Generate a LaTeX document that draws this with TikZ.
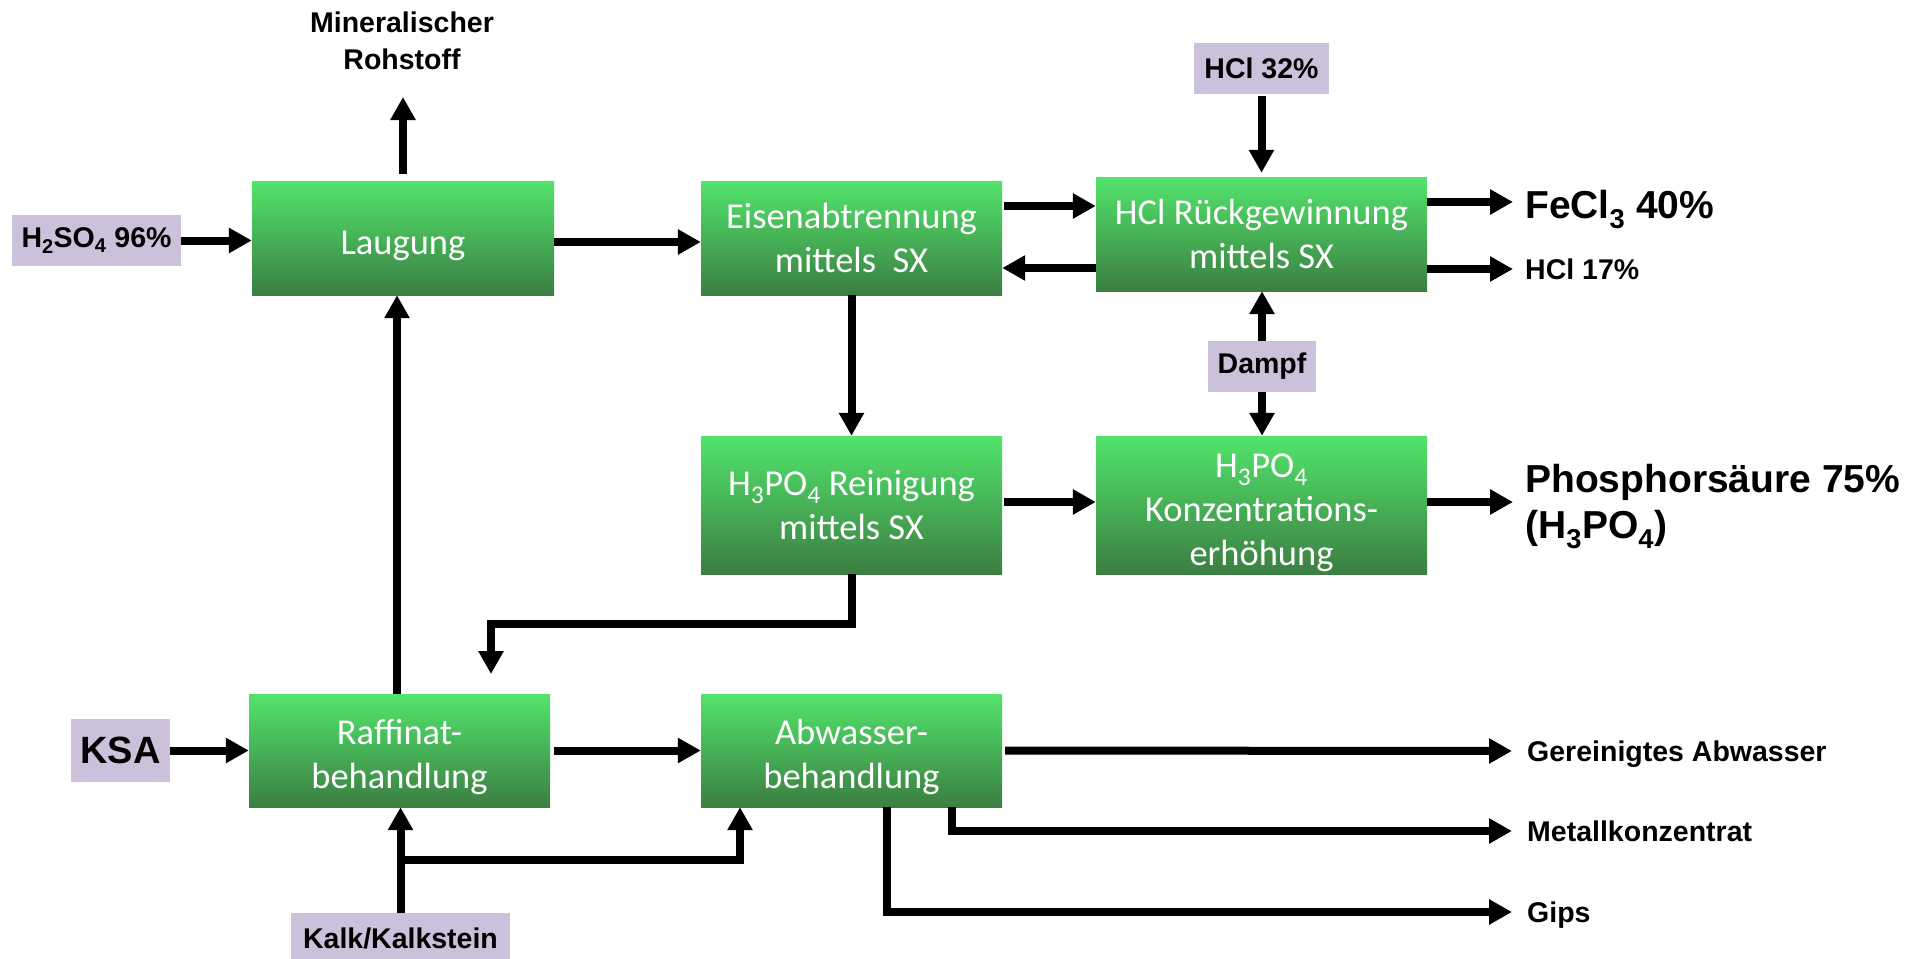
\documentclass[tikz,border=0pt]{standalone}
\usepackage{fontspec}
\setmainfont{Carlito}
\newfontfamily\labfont{Liberation Sans}
\usetikzlibrary{arrows.meta,calc}
\definecolor{lav}{HTML}{CCC1DA}
\definecolor{gtop}{HTML}{52E46B}
\definecolor{gbot}{HTML}{3B7E42}
\begin{document}
\begin{tikzpicture}[x=1pt,y=-1pt,
 proc/.style={rectangle, top color=gtop, bottom color=gbot, draw=none, text=white, align=center,
   font=\fontsize{36.5}{44}\selectfont, inner sep=0pt},
 feed/.style={rectangle, fill=lav, draw=none, inner sep=0pt, font=\labfont\bfseries\fontsize{28.5}{34}\selectfont},
 lab/.style={inner sep=0pt, font=\labfont\bfseries\fontsize{28.5}{37}\selectfont},
 biglab/.style={inner sep=0pt, font=\labfont\bfseries\fontsize{39}{46}\selectfont},
 flow/.style={line width=8pt, -{Triangle[length=23pt,width=24pt]}},
]
\newcommand\topgap{\rule{0pt}{39pt}}
\useasboundingbox (0,0) rectangle (1913,958);

% process boxes
\node[proc, minimum width=302pt, minimum height=114pt] (laug) at (403,238) {\topgap Laugung};
\node[proc, minimum width=301pt, minimum height=114pt] (eisen) at (851.5,238) {Eisenabtrennung\\mittels\ \ SX};
\node[proc, minimum width=331pt, minimum height=114pt] (hclr) at (1261.5,234) {HCl Rückgewinnung\\mittels SX};
\node[proc, minimum width=301pt, minimum height=138pt] (rein) at (851.5,505) {H\textsubscript{3}PO\textsubscript{4} Reinigung\\mittels SX};
\node[proc, minimum width=331pt, minimum height=138pt] (konz) at (1261.5,505) {\topgap H\textsubscript{3}PO\textsubscript{4}\\Konzentrations-\\erhöhung};
\node[proc, minimum width=301pt, minimum height=113pt] (raff) at (399.5,750.5) {\topgap Raffinat-\\behandlung};
\node[proc, minimum width=301pt, minimum height=113pt] (abw) at (851.5,750.5) {\topgap Abwasser-\\behandlung};

% feed boxes
\node[feed, minimum width=169pt, minimum height=51pt] (h2so4) at (96.5,240.5) {H\textsubscript{2}SO\textsubscript{4} 96\%};
\node[feed, minimum width=135pt, minimum height=51pt] (hcl32) at (1261.5,68.5) {HCl 32\%};
\node[feed, minimum width=108pt, minimum height=51pt] (dampf) at (1262,366.5) {Dampf};
\node[feed, minimum width=99pt, minimum height=63pt, font=\labfont\bfseries\fontsize{38}{44}\selectfont] (ksa) at (120.5,750.5) {KSA};
\node[feed, minimum width=219pt, minimum height=51pt] (kalk) at (400.5,938.5) {Kalk/Kalkstein};

% output labels
\node[lab, align=center] (mineral) at (402,41) {Mineralischer\\Rohstoff};
\node[biglab, anchor=base west] (tfe) at (1525,218) {FeCl\textsubscript{3} 40\%};
\node[lab, anchor=base west] (th17) at (1525,279) {HCl 17\%};
\node[biglab, anchor=base west] (tph1) at (1525,492) {Phosphorsäure 75\%};
\node[biglab, anchor=base west] (tph2) at (1525,538) {(H\textsubscript{3}PO\textsubscript{4})};
\node[lab, anchor=base west] (tger) at (1527,761) {Gereinigtes Abwasser};
\node[lab, anchor=base west] (tmet) at (1527,841) {Metallkonzentrat};
\node[lab, anchor=base west] (tgips) at (1527,922) {Gips};

% coordinates for free ends
\coordinate (minend) at (403,97);
\coordinate (fe) at (1513,202);
\coordinate (h17) at (1513,269);
\coordinate (ph) at (1513,502);
\coordinate (rbend) at (491,624);
\coordinate (rr) at (491,674);
\coordinate (kj) at (400.5,860);
\coordinate (ger) at (1512,751);
\coordinate (met) at (1512,831);
\coordinate (gips) at (1512,912);

% connectors
\draw[flow] (h2so4.east) -- (h2so4.east -| laug.west);
\draw[flow] ($(laug.north)+(0,-7)$) -- (minend);
\draw[flow] ($(laug.east)+(0,4)$) -- ($(eisen.west)+(0,4)$);
\draw[flow] ($(eisen.east)+(2,-32)$) -- ($(hclr.west)+(0,-28)$);
\draw[flow] ($(hclr.west)+(0,34)$) -- ($(eisen.east)+(0,30)$);
\draw[flow] ($(hcl32.south)+(0,2)$) -- ($(hclr.north)+(0,-4)$);
\draw[flow] (hclr.east |- fe) -- (fe);
\draw[flow] (hclr.east |- h17) -- (h17);
\draw[flow] (dampf.north) -- (hclr.south -| dampf.north);
\draw[flow] (dampf.south) -- (konz.north -| dampf.south);
\draw[flow] (eisen.south) -- (rein.north);
\draw[flow] ($(rein.east)+(2,-3)$) -- ($(konz.west)+(0,-3)$);
\draw[flow] (konz.east |- ph) -- (ph);
\draw[flow] (rein.south) |- (rbend) -- (rr);
\draw[flow] ($(raff.north)+(-2.5,0)$) -- ($(laug.south)+(-6,0)$);
\draw[flow] (ksa.east) -- (ksa.east -| raff.west);
\draw[flow] ($(raff.east)+(4,0)$) -- (abw.west);
\draw[flow] (kalk.north) -- (kalk.north |- raff.south);
\draw[flow] (kj) -| ($(abw.south)+(-111.5,0)$);
\draw[flow] ($(abw.east)+(3,0)$) -- (ger);
\draw[flow] ($(abw.south)+(100.5,0)$) |- (met);
\draw[flow] ($(abw.south)+(35.5,0)$) |- (gips);
\end{tikzpicture}
\end{document}
